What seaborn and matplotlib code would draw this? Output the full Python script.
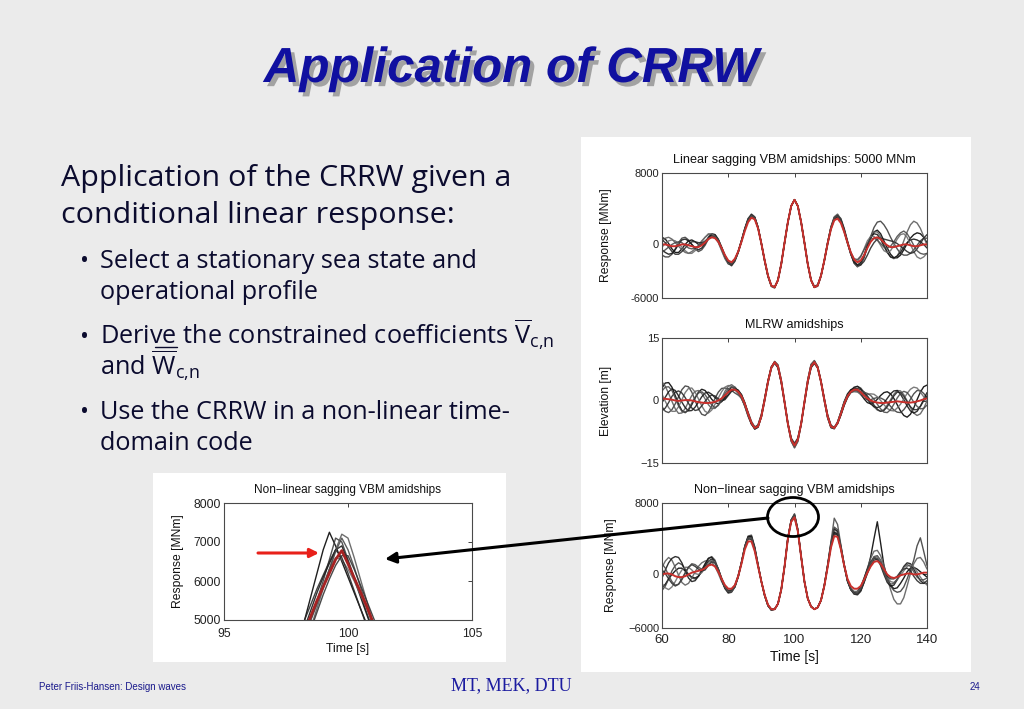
import numpy as np
import pandas as pd
import matplotlib
matplotlib.use("Agg")
import matplotlib.pyplot as plt
import matplotlib.patheffects as pe
from matplotlib.patches import Rectangle, Ellipse, FancyArrowPatch
import seaborn as sns

# --- data ----------------------------------------------------------------
time_s = list(range(60, 141))

# linear sagging VBM, conditional mean (red) [MNm]
lin_mean = [0, 0, -100, -200, -200, -100, 0, 0, -100, -200,
            -300, -300, -100, 200, 600, 800, 700, 300, -400, -1200,
            -1800, -2000, -1600, -800, 300, 1500, 2500, 3000, 2800, 1800,
            100, -1800, -3500, -4600, -4800, -4000, -2200, 200, 2500, 4300,
            5000, 4300, 2500, 200, -2200, -4000, -4800, -4600, -3500, -1800,
            100, 1700, 2700, 2900, 2400, 1400, 200, -900, -1700, -2000,
            -1800, -1200, -400, 300, 700, 800, 600, 200, -100, -300,
            -300, -200, -100, 0, 0, -100, -200, -200, -100, 0,
            0]
# realisations, deviation from the mean [100 MNm]
lin_dev = [
    [8, 6, 2, -3, -7, -8, -5, 0, 5, 7, 6, 3, 1, 0, 2, 4, 4, 2, 0, -1,
     -2, -2, -1, 0, 1, 2, 3, 3, 2, 1, 0, -1, -1, 0, 0, 0, 0, 0, 0, 0,
     0, 0, 0, 0, 0, 0, 0, 0, 0, 0, 1, 2, 3, 4, 4, 3, 1, -1, -3, -4,
     -4, -2, 1, 4, 7, 8, 6, 2, -3, -8, -12, -13, -11, -6, 1, 8, 13, 15, 13, 8, 2],
    [-12, -14, -13, -9, -3, 3, 7, 8, 6, 2, -2, -5, -5, -3, 0, 3, 4, 3, 1, -1,
     -3, -4, -3, -1, 1, 3, 4, 4, 3, 1, 0, -1, -1, -1, 0, 0, 0, 0, 0, 0,
     0, 0, 0, 0, 0, 0, 1, 1, 0, -1, -1, 0, 2, 4, 5, 4, 2, -1, -4, -5,
     -5, -3, 1, 6, 12, 17, 20, 20, 17, 11, 4, -3, -9, -12, -12, -9, -4, 1, 5, 7, 7],
    [3, 7, 9, 8, 4, -1, -6, -9, -9, -6, -2, 2, 5, 6, 5, 3, 1, -1, -3, -4,
     -4, -3, -2, 0, 2, 3, 4, 3, 2, 1, 0, 0, -1, -1, -1, 0, 0, 0, 0, 0,
     0, 0, 0, 0, 0, 0, 0, -1, -1, 0, 1, 3, 4, 5, 4, 2, 0, -2, -4, -5,
     -4, -1, 3, 6, 7, 6, 3, -2, -7, -11, -13, -11, -5, 4, 14, 23, 28, 26, 19, 9, -1],
    [-6, -9, -10, -8, -4, 1, 5, 6, 5, 2, -1, -3, -3, -1, 1, 3, 3, 2, 0, -2,
     -3, -3, -2, -1, 1, 2, 3, 3, 2, 1, 0, 0, 0, 0, 0, 0, 0, 0, 0, 0,
     0, 0, 0, 0, 0, 0, 0, 0, 0, 0, 0, 1, 2, 3, 3, 2, 0, -2, -3, -3,
     -2, 0, 3, 5, 5, 3, 0, -4, -8, -11, -12, -11, -8, -3, 2, 6, 8, 7, 4, 0, -4],
    [-3, 1, 5, 7, 6, 2, -3, -7, -9, -8, -4, 1, 4, 6, 6, 4, 2, 0, -2, -3,
     -3, -2, -1, 0, 1, 2, 2, 2, 1, 0, 0, 0, 0, 0, 0, 0, 0, 0, 0, 0,
     0, 0, 0, 0, 0, 0, 0, 0, 0, 0, 1, 2, 2, 2, 1, 0, -1, -2, -1, 1,
     4, 7, 8, 6, 2, -3, -7, -9, -8, -4, 2, 8, 12, 12, 8, 1, -6, -12, -15, -14, -10],
    [5, 2, -2, -6, -9, -10, -8, -4, 1, 5, 6, 5, 3, 1, 0, 0, 1, 1, 0, -1,
     -2, -2, -1, 0, 1, 2, 2, 1, 1, 0, 0, 0, 0, 0, 0, 0, 0, 0, 0, 0,
     0, 0, 0, 0, 0, 0, 0, 0, 0, 0, 0, 1, 1, 2, 2, 1, 0, -1, -2, -3,
     -5, -7, -8, -7, -5, -2, 1, 4, 6, 7, 6, 3, -1, -5, -8, -9, -7, -3, 2, 7, 11],
    [-9, -6, -2, 2, 4, 4, 2, -1, -3, -3, -1, 1, 2, 2, 1, 1, 2, 2, 1, 0,
     -1, -2, -2, -1, 0, 1, 2, 2, 2, 1, 0, 0, 0, 0, 0, 0, 0, 0, 0, 0,
     0, 0, 0, 0, 0, 0, 0, 0, 0, 0, 1, 2, 3, 3, 2, 1, 0, 0, 1, 3,
     5, 6, 5, 3, 0, -3, -5, -5, -3, 1, 6, 11, 14, 15, 12, 7, 1, -5, -9, -11, -10],
]

# MLRW elevation, mean [m]
elev_mean = [0.5, 0.4, 0.3, 0.2, 0.0, -0.1, 0.0, 0.1, 0.1, 0.0,
             -0.2, -0.4, -0.5, -0.6, -0.6, -0.5, -0.3, 0.0, 0.5, 1.2,
             2.0, 2.6, 2.6, 2.1, 1.0, -0.8, -3.2, -5.4, -6.6, -6.2,
             -3.8, 0.2, 4.5, 7.9, 9.2, 8.2, 4.6, -0.4, -5.6, -9.4,
             -10.8, -9.4, -5.6, -0.4, 4.6, 8.2, 9.2, 7.9, 4.5, 0.2,
             -3.8, -6.2, -6.6, -5.4, -3.2, -0.8, 1.0, 2.1, 2.6, 2.6,
             2.0, 1.2, 0.5, 0.0, -0.3, -0.5, -0.6, -0.6, -0.5, -0.4,
             -0.3, -0.2, -0.3, -0.4, -0.5, -0.5, -0.4, -0.2, 0.0, 0.3,
             0.5]
# deviation [dm]
elev_dev = [
    [25, 38, 40, 30, 12, -8, -24, -30, -24, -10, 8, 24, 32, 30, 20, 8, -2, -8, -8, -4,
     2, 6, 6, 2, -3, -6, -6, -3, 1, 4, 5, 4, 2, 0, -2, -3, -2, 0, 2, 3,
     2, 0, -2, -3, -2, 0, 2, 3, 2, 0, -2, -3, -2, 0, 3, 5, 6, 5, 3, 0,
     -4, -8, -10, -8, -2, 8, 18, 25, 26, 20, 8, -8, -22, -32, -35, -28, -14, 4, 20, 30, 32],
    [-20, -30, -32, -24, -8, 10, 26, 34, 32, 20, 2, -16, -28, -30, -22, -8, 8, 20, 24, 18,
     8, -2, -8, -8, -4, 0, 4, 4, 2, 0, -2, -3, -2, 0, 2, 4, 3, 1, -2, -4,
     -5, -4, -2, 1, 4, 5, 4, 2, -1, -3, -4, -3, -1, 2, 4, 5, 4, 2, -1, -4,
     -6, -6, -3, 2, 8, 12, 12, 8, 0, -10, -20, -26, -26, -18, -6, 8, 20, 26, 24, 14, 2],
    [40, 30, 14, -4, -20, -30, -30, -20, -4, 12, 24, 28, 22, 10, -4, -14, -16, -10, 0, 10,
     14, 12, 6, 0, -4, -5, -4, -2, 0, 2, 3, 2, 0, -2, -3, -3, -2, 0, 2, 4,
     6, 4, 1, -2, -4, -4, -3, -1, 1, 3, 4, 3, 1, -1, -3, -4, -3, 0, 4, 8,
     10, 8, 3, -4, -12, -18, -20, -16, -6, 6, 18, 26, 26, 18, 4, -12, -26, -34, -32, -22, -6],
    [-10, 4, 18, 26, 24, 12, -4, -18, -26, -24, -14, 0, 14, 24, 26, 20, 10, 0, -6, -8,
     -6, -2, 2, 4, 4, 2, 0, -2, -3, -2, 0, 2, 3, 2, 0, -2, -3, -2, 0, 1,
     2, 2, 1, 0, -1, -2, -2, -1, 0, 1, 2, 1, 0, -2, -3, -2, 0, 3, 6, 8,
     8, 4, -2, -8, -12, -12, -8, 0, 10, 20, 26, 26, 18, 6, -8, -20, -26, -24, -14, 0, 14],
    [10, -6, -20, -28, -26, -14, 2, 18, 28, 30, 22, 8, -8, -20, -24, -18, -6, 6, 16, 20,
     16, 8, 0, -5, -6, -4, -1, 2, 3, 2, 0, -2, -3, -2, 0, 3, 4, 3, 0, -3,
     -6, -5, -2, 1, 3, 4, 3, 1, -1, -2, -2, -1, 1, 3, 4, 3, 1, -2, -5, -6,
     -4, 2, 10, 16, 18, 14, 6, -4, -14, -20, -22, -16, -6, 8, 22, 32, 36, 32, 20, 6, -8],
    [-30, -22, -8, 8, 20, 24, 18, 6, -8, -18, -22, -18, -8, 4, 14, 18, 14, 4, -6, -10,
     -8, -4, 0, 3, 4, 3, 1, -1, -2, -2, -1, 0, 1, 1, 0, -1, -1, 0, 1, 2,
     3, 2, 0, -1, -2, -2, -1, 0, 1, 2, 2, 2, 1, 0, -2, -3, -3, -2, 0, 3,
     6, 8, 6, 0, -8, -16, -20, -18, -10, 2, 14, 22, 22, 14, 2, -10, -18, -20, -14, -4, 6],
    [18, 28, 30, 22, 6, -12, -26, -30, -22, -6, 10, 22, 26, 20, 8, -6, -14, -12, -4, 4,
     8, 6, 2, -2, -4, -3, -1, 1, 2, 2, 1, 0, -1, -1, 0, 1, 1, 0, -1, -2,
     -3, -2, 0, 2, 3, 3, 2, 0, -2, -3, -3, -2, 0, 2, 3, 3, 1, -1, -3, -2,
     2, 8, 12, 12, 6, -4, -14, -22, -24, -18, -6, 8, 20, 26, 24, 14, 0, -12, -20, -22, -16],
]

# non-linear sagging VBM, mean [MNm]
nl_mean = [0, 100, 100, 0, -200, -300, -300, -200, 0, 200,
           300, 400, 500, 700, 1000, 1100, 900, 300, -500, -1200,
           -1600, -1600, -1200, -200, 1200, 2800, 3700, 3700, 2600, 900,
           -800, -2300, -3400, -3900, -3900, -3300, -1700, 900, 4000, 5900,
           6400, 4850, 2000, -800, -2700, -3600, -3900, -3700, -2900, -1300,
           800, 3000, 4300, 4200, 2800, 1000, -500, -1300, -1600, -1600,
           -1300, -600, 200, 900, 1400, 1500, 1200, 600, 0, -300,
           -400, -300, -100, 0, 100, 100, 0, 0, 100, 200,
           200]
# deviation [100 MNm]
nl_dev = [
    [-15, -12, -6, 0, 6, 10, 10, 6, 0, -5, -7, -6, -2, 2, 5, 6, 5, 2, -1, -3,
     -3, -2, -1, 0, 1, 3, 5, 6, 4, 2, 0, -1, -1, 0, 0, 0, 0, 0, 1, 2,
     3, 1, 0, 0, 0, 0, 0, 0, 0, 1, 2, 4, 8, 6, 3, 1, -1, -3, -5, -6,
     -5, -2, 3, 11, 26, 44, 23, 4, -4, -9, -12, -12, -9, -4, 2, 6, 8, 6, 2, -2, -5],
    [-18, -14, -6, 4, 12, 16, 14, 8, 0, -6, -8, -6, -1, 4, 8, 9, 7, 3, -1, -4,
     -5, -4, -2, 0, 2, 4, 6, 7, 5, 2, 0, -1, -1, -1, 0, 0, 0, 0, 1, 2,
     3, 2, 1, 0, 0, 0, 0, 0, 0, 1, 3, 6, 10, 8, 4, 1, -2, -4, -6, -7,
     -6, -3, 1, 4, 6, 6, 4, 0, -5, -10, -14, -17, -18, -14, -6, 4, 16, 32, 40, 24, 8],
    [8, 14, 18, 16, 10, 2, -6, -10, -10, -6, 0, 5, 8, 8, 6, 3, 0, -2, -3, -3,
     -2, -1, 0, 1, 2, 3, 4, 4, 3, 1, 0, -1, -1, 0, 0, 0, 0, 0, 0, 1,
     2, 1, 0, 0, 0, 0, 0, 0, 0, 0, 1, 3, 5, 4, 2, 0, -2, -3, -4, -4,
     -2, 1, 5, 9, 12, 12, 9, 4, -4, -14, -24, -30, -32, -26, -14, 0, 12, 18, 18, 12, 4],
    [-4, 4, 12, 18, 22, 22, 16, 6, -4, -10, -10, -6, 0, 5, 8, 8, 5, 2, -1, -3,
     -4, -3, -2, -1, 1, 3, 5, 5, 3, 1, 0, 0, -1, -1, 0, 0, 0, 0, 1, 1,
     2, 1, 0, 0, 0, 0, 0, 0, 0, 0, 1, 2, 4, 3, 1, -1, -3, -4, -4, -3,
     -1, 2, 4, 5, 4, 2, -2, -6, -9, -10, -8, -3, 3, 9, 12, 11, 6, -1, -8, -12, -12],
    [-10, -16, -18, -14, -6, 2, 8, 10, 8, 3, -2, -4, -3, 0, 3, 5, 5, 3, 0, -2,
     -3, -3, -2, 0, 2, 3, 3, 3, 2, 1, 0, 0, 0, 0, 0, 0, 0, 0, 0, 1,
     1, 1, 0, 0, 0, 0, 0, 0, 0, 0, 0, 1, 2, 2, 1, 0, -1, -2, -3, -3,
     -3, -2, 0, 3, 5, 5, 3, 0, -3, -5, -5, -3, 0, 4, 8, 10, 8, 3, -4, -10, -14],
    [5, 0, -6, -10, -11, -8, -2, 4, 8, 9, 6, 2, -1, -2, 0, 3, 4, 3, 1, -1,
     -2, -2, -1, 0, 1, 2, 3, 2, 1, 0, 0, 0, 0, 0, 0, 0, 0, 0, 0, 0,
     0, 0, 0, 0, 0, 0, 0, 0, 0, 0, 1, 2, 3, 2, 1, 0, -2, -4, -6, -6,
     -5, -3, -1, 1, 2, 2, 1, -1, -2, -2, -1, 1, 4, 6, 6, 3, -2, -7, -11, -12, -9],
    [12, 6, -2, -8, -10, -8, -3, 3, 8, 10, 8, 4, 1, 0, 1, 3, 4, 3, 0, -2,
     -3, -3, -2, -1, 1, 3, 4, 4, 2, 1, 0, -1, -1, -1, 0, 0, 0, 0, 0, 2,
     4, 2, 0, 0, 0, 0, 0, 0, 0, 1, 2, 6, 20, 14, 5, 1, -2, -4, -5, -5,
     -3, 0, 3, 5, 5, 3, 0, -4, -7, -8, -6, -2, 3, 8, 10, 8, 3, -3, -7, -8, -6],
]

# zoom on the non-linear peak [MNm]
zoom_t = [98.0, 98.25, 98.5, 98.75, 99.0, 99.25, 99.5, 99.75,
          100.0, 100.25, 100.5, 100.75, 101.0, 101.25, 101.5]
zoom_mean = [4300, 4700, 5100, 5500, 5850, 6200, 6550, 6780,
             6440, 6080, 5720, 5360, 4950, 4560, 4200]
zoom_runs = [
    [4500, 5000, 5600, 6200, 6800, 7250, 6900, 6500, 6100, 5700, 5300, 4900, 4500, 4100, 3700],
    [4200, 4600, 5050, 5500, 6000, 6550, 7100, 7000, 6550, 6100, 5650, 5200, 4750, 4300, 3850],
    [4000, 4400, 4800, 5300, 5800, 6300, 6800, 7200, 7100, 6600, 6050, 5500, 4950, 4400, 3900],
    [4400, 4800, 5250, 5700, 6100, 6450, 6800, 6900, 6500, 6050, 5600, 5150, 4700, 4250, 3800],
    [4100, 4550, 5000, 5450, 5900, 6300, 6600, 6550, 6300, 6000, 5650, 5300, 4950, 4600, 4250],
    [4600, 5000, 5400, 5800, 6150, 6500, 6800, 6600, 6200, 5750, 5300, 4850, 4400, 3950, 3500],
    [4300, 4650, 5000, 5400, 5850, 6300, 6750, 7100, 6800, 6350, 5850, 5350, 4850, 4350, 3850],
    [3900, 4300, 4750, 5200, 5650, 6050, 6400, 6650, 6650, 6300, 5900, 5500, 5100, 4700, 4300],
]

RUN_COLORS = ['#000000', '#3a3a3a', '#5a5a5a', '#141414', '#6a6a6a', '#262626', '#484848', '#303030']
MEAN_COLOR = '#c8302c'
W, H = 1024, 709

sns.set_theme(style="white", rc={
    "xtick.direction": "in", "ytick.direction": "in",
    "xtick.major.size": 3, "ytick.major.size": 3,
    "xtick.major.width": 0.6, "ytick.major.width": 0.6,
    "axes.edgecolor": "#4a4a4a", "axes.linewidth": 0.8,
})
plt.rcParams['font.family'] = ['Liberation Sans', 'DejaVu Sans']
plt.rcParams['mathtext.fontset'] = 'custom'
plt.rcParams['mathtext.rm'] = 'Open Sans'
plt.rcParams['mathtext.it'] = 'Open Sans:italic'

fig = plt.figure(figsize=(W / 100, H / 100), dpi=100, facecolor='#ebebeb')


def px_axes(x0, y0, x1, y1, **kw):
    return fig.add_axes([x0 / W, 1 - y1 / H, (x1 - x0) / W, (y1 - y0) / H], **kw)


def draw_bundle(ax, t, runs, mean, lw_mean=1.4, mean_color=MEAN_COLOR):
    long = pd.DataFrame({
        't': np.tile(t, len(runs)),
        'v': np.concatenate([np.asarray(r, float) for r in runs]),
        'run': np.repeat([f'r{i}' for i in range(len(runs))], len(t)),
    })
    sns.lineplot(data=long, x='t', y='v', hue='run', palette=RUN_COLORS[:len(runs)],
                 estimator=None, legend=False, lw=1.0, alpha=0.88, ax=ax)
    sns.lineplot(x=t, y=mean, color=mean_color, lw=lw_mean, ax=ax)


def style(ax, xlim, xticks, ylim, yticks, yticklabels, ylabel, label_x=-0.187,
          xticklabels=None, xlabel=None, xpad=3.5, xlabelpad=2):
    ax.set_xlim(*xlim)
    ax.set_ylim(*ylim)
    ax.set_xticks(xticks)
    ax.set_yticks(yticks)
    ax.set_yticklabels(yticklabels, fontsize=8)
    if xticklabels is None:
        ax.set_xticklabels([])
    else:
        ax.set_xticklabels(xticklabels, fontsize=9.5)
    ax.tick_params(top=True, right=True, pad=2, colors='#222222')
    ax.tick_params(axis='x', pad=xpad)
    ax.set_ylabel(ylabel, fontsize=8.7, color='#111111')
    ax.yaxis.set_label_coords(label_x, 0.5)
    ax.set_xlabel(xlabel if xlabel else '', fontsize=10, color='#111111', labelpad=xlabelpad)
    ax.set_facecolor('white')
    for s in ax.spines.values():
        s.set_visible(True)


# --- slide background, boxes and text --------------------------------------
bg = fig.add_axes([0, 0, 1, 1], zorder=-10)
bg.set_xlim(0, W)
bg.set_ylim(H, 0)
bg.axis('off')
bg.add_patch(Rectangle((581, 137), 390, 535, fc='white', ec='none'))
bg.add_patch(Rectangle((153, 473), 353, 189, fc='white', ec='none'))

bg.text(511, 82, 'Application of CRRW', ha='center', va='baseline', fontsize=35.5,
        fontweight='bold', fontstyle='italic', color='#1010a0',
        family=['Liberation Sans Narrow', 'Liberation Sans'],
        path_effects=[pe.SimplePatchShadow(offset=(3, -3), shadow_rgbFace='#9a9a9a', alpha=0.9),
                      pe.Normal()])

TXT = '#0b0b2e'
body = dict(va='baseline', color=TXT, family=['Open Sans', 'DejaVu Sans'])
bg.text(61, 186, 'Application of the CRRW given a', fontsize=21.9, **body)
bg.text(61, 223, 'conditional linear response:', fontsize=21.9, **body)
bullets = [
    (268, 'Select a stationary sea state and', True),
    (299, 'operational profile', False),
    (344, r'Derive the constrained coefficients $\overline{\mathrm{V}}_{\mathrm{c{,}n}}$', True),
    (375, r'and $\overline{\mathrm{W}}_{\mathrm{c{,}n}}$', False),
    (419, 'Use the CRRW in a non-linear time-', True),
    (450, 'domain code', False),
]
for yb, txt, has_bullet in bullets:
    if has_bullet:
        bg.text(80, yb, '\u2022', fontsize=17, **body)
    bg.text(100, yb, txt, fontsize=18.2, **body)
bg.plot([155, 177], [347, 347], color=TXT, lw=1)

bg.text(39, 690, 'Peter Friis-Hansen: Design waves', fontsize=7, color='#1a1a8c', va='baseline',
        family=['Liberation Sans Narrow', 'Liberation Sans'])
bg.text(511, 690, 'MT, MEK, DTU', fontsize=13, color='#1c1ca0', ha='center', va='baseline',
        family=['Liberation Serif', 'DejaVu Serif'])
bg.text(980, 690, '24', fontsize=7, color='#1a1a8c', ha='right', va='baseline',
        family=['Liberation Sans Narrow', 'Liberation Sans'])

# --- right column: three time series ----------------------------------------
t = np.array(time_s)
ax1 = px_axes(662, 173, 927, 298)
draw_bundle(ax1, t, [np.array(lin_mean) + 100 * np.array(d) for d in lin_dev], lin_mean)
style(ax1, (60, 140), [60, 80, 100, 120, 140], (-6000, 8000), [-6000, 0, 8000],
      ['-6000', '0', '8000'], 'Response [MNm]')
ax1.set_title('Linear sagging VBM amidships: 5000 MNm', fontsize=9.1, pad=7, color='#111111')

ax2 = px_axes(662, 338, 927, 463)
draw_bundle(ax2, t, [np.array(elev_mean) + 0.1 * np.array(d) for d in elev_dev], elev_mean)
style(ax2, (60, 140), [60, 80, 100, 120, 140], (-15, 15), [-15, 0, 15],
      ['\u221215', '0', '15'], 'Elevation [m]')
ax2.set_title('MLRW amidships', fontsize=9.1, pad=7, color='#111111')

ax3 = px_axes(662, 503, 927, 628)
draw_bundle(ax3, t, [np.array(nl_mean) + 100 * np.array(d) for d in nl_dev], nl_mean)
style(ax3, (60, 140), [60, 80, 100, 120, 140], (-6000, 8000), [-6000, 0, 8000],
      ['\u22126000', '0', '8000'], 'Response [MNm]', label_x=-0.17,
      xticklabels=['60', '80', '100', '120', '140'], xlabel='Time [s]', xpad=4.5, xlabelpad=3)
ax3.set_title('Non\u2212linear sagging VBM amidships', fontsize=9.1, pad=7, color='#111111')

# --- inset: zoom on the non-linear peak -------------------------------------
ax4 = px_axes(224, 503, 472, 620)
draw_bundle(ax4, np.array(zoom_t), zoom_runs, zoom_mean, lw_mean=2.0, mean_color='#a52222')
style(ax4, (95, 105), [95, 100, 105], (5000, 8000), [5000, 6000, 7000, 8000],
      ['5000', '6000', '7000', '8000'], 'Response [MNm]', label_x=-0.161,
      xticklabels=['95', '100', '105'], xlabel='Time [s]', xpad=5.5, xlabelpad=2.5)
ax4.tick_params(labelsize=8.8)
ax4.xaxis.label.set_size(8.8)
ax4.set_title('Non\u2212linear sagging VBM amidships', fontsize=8.5, pad=7, color='#111111')

# --- overlay: ellipse and arrows ---------------------------------------------
fg = fig.add_axes([0, 0, 1, 1], zorder=10)
fg.set_xlim(0, W)
fg.set_ylim(H, 0)
fg.axis('off')
fg.patch.set_alpha(0)
fg.add_patch(Ellipse((793, 517), 51, 39, fill=False, ec='black', lw=2))
fg.add_patch(FancyArrowPatch((768, 518), (385, 559), arrowstyle='-|>', mutation_scale=16,
                             lw=2.2, color='black', shrinkA=0, shrinkB=0))
fg.add_patch(FancyArrowPatch((258, 553), (319, 553), arrowstyle='-|>', mutation_scale=13,
                             lw=2.2, color='#e8201a', shrinkA=0, shrinkB=0))

fig.savefig('out.png', dpi=100, facecolor=fig.get_facecolor())
